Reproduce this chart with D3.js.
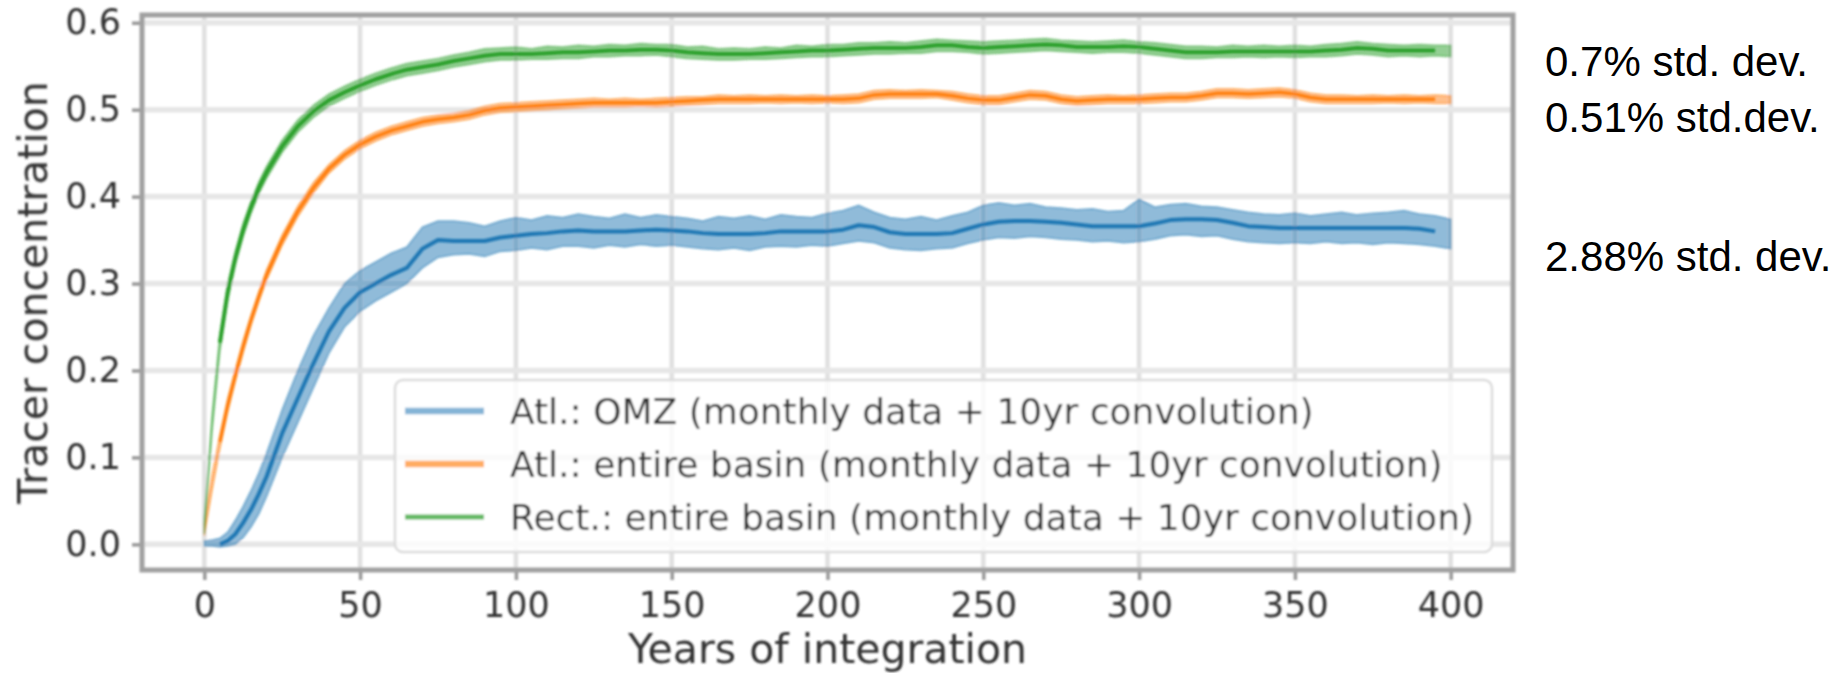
<!DOCTYPE html>
<html>
<head>
<meta charset="utf-8">
<script src="https://cdn.jsdelivr.net/npm/d3@7"></script>
<style>
  body { margin: 0; background: #fff; }
  svg { display: block; }
</style>
</head>
<body>
<div id="chart"></div>
<script>
// years of integration (monthly band sampled every 2.5 / 5 years)
const years = [
  0, 2.5, 5, 7.5, 10, 12.5, 15, 17.5,
  20, 25, 30, 35, 40, 45, 50, 55, 60, 65,
  70, 75, 80, 85, 90, 95, 100, 105, 110, 115,
  120, 125, 130, 135, 140, 145, 150, 155, 160, 165,
  170, 175, 180, 185, 190, 195, 200, 205, 210, 215,
  220, 225, 230, 235, 240, 245, 250, 255, 260, 265,
  270, 275, 280, 285, 290, 295, 300, 305, 310, 315,
  320, 325, 330, 335, 340, 345, 350, 355, 360, 365,
  370, 375, 380, 385, 390, 395, 400
]

// Atl.: OMZ
const omzLine = [
  null, null, 0.0, 0.004, 0.012, 0.025, 0.04, 0.058,
  0.078, 0.128, 0.168, 0.208, 0.245, 0.272, 0.29, 0.30, 0.31, 0.318,
  0.34, 0.35, 0.349, 0.349, 0.349, 0.353, 0.355, 0.357, 0.358, 0.36,
  0.361, 0.36, 0.36, 0.36, 0.361, 0.362, 0.361, 0.36, 0.358, 0.357,
  0.357, 0.357, 0.358, 0.36, 0.36, 0.36, 0.36, 0.362, 0.367, 0.365,
  0.359, 0.357, 0.357, 0.357, 0.358, 0.363, 0.368, 0.371, 0.372, 0.372,
  0.371, 0.37, 0.368, 0.366, 0.366, 0.366, 0.366, 0.369, 0.373, 0.374,
  0.374, 0.373, 0.37, 0.366, 0.365, 0.364, 0.364, 0.364, 0.364, 0.364,
  0.364, 0.364, 0.364, 0.364, 0.363, 0.36, null
]
const omzHigh = [
  0.004, 0.005, 0.007, 0.014, 0.028, 0.044, 0.062, 0.082,
  0.105, 0.155, 0.20, 0.24, 0.272, 0.30, 0.315, 0.325, 0.335, 0.342,
  0.365, 0.372, 0.372, 0.37, 0.366, 0.372, 0.376, 0.373, 0.378, 0.376,
  0.38, 0.377, 0.375, 0.38, 0.376, 0.379, 0.377, 0.375, 0.372, 0.377,
  0.375, 0.378, 0.374, 0.379, 0.377, 0.376, 0.381, 0.384, 0.39, 0.382,
  0.376, 0.374, 0.377, 0.373, 0.378, 0.382, 0.39, 0.393, 0.39, 0.392,
  0.388, 0.387, 0.385, 0.386, 0.383, 0.384, 0.397, 0.388, 0.391, 0.392,
  0.389, 0.388, 0.385, 0.382, 0.38, 0.379, 0.381, 0.378, 0.38, 0.382,
  0.379, 0.381, 0.382, 0.384, 0.38, 0.378, 0.374
]
const omzLow = [
  -0.002, -0.002, -0.003, -0.002, 0.0, 0.008, 0.02, 0.035,
  0.055, 0.10, 0.14, 0.18, 0.22, 0.25, 0.268, 0.28, 0.29, 0.30,
  0.318, 0.33, 0.333, 0.334, 0.331, 0.337, 0.338, 0.341, 0.339, 0.343,
  0.343, 0.341, 0.344, 0.342, 0.345, 0.343, 0.344, 0.342, 0.34, 0.339,
  0.341, 0.338, 0.342, 0.343, 0.342, 0.344, 0.343, 0.346, 0.349, 0.347,
  0.341, 0.339, 0.338, 0.34, 0.341, 0.346, 0.35, 0.353, 0.352, 0.354,
  0.353, 0.351, 0.35, 0.348, 0.349, 0.347, 0.348, 0.351, 0.355, 0.356,
  0.354, 0.355, 0.351, 0.348, 0.347, 0.346, 0.347, 0.346, 0.348, 0.346,
  0.347, 0.345, 0.347, 0.346, 0.345, 0.343, 0.34
]

// Atl.: entire basin
const atlLine = [
  null, null, 0.118, 0.16, 0.195, 0.228, 0.258, 0.285,
  0.31, 0.35, 0.383, 0.41, 0.432, 0.448, 0.46, 0.469, 0.476, 0.481,
  0.486, 0.489, 0.491, 0.494, 0.499, 0.502, 0.503, 0.504, 0.505, 0.506,
  0.507, 0.508, 0.508, 0.508, 0.508, 0.508, 0.509, 0.510, 0.511, 0.512,
  0.512, 0.512, 0.512, 0.512, 0.512, 0.512, 0.512, 0.512, 0.513, 0.517,
  0.518, 0.518, 0.518, 0.518, 0.516, 0.513, 0.511, 0.511, 0.514, 0.517,
  0.516, 0.512, 0.510, 0.511, 0.512, 0.512, 0.512, 0.513, 0.514, 0.514,
  0.516, 0.519, 0.519, 0.518, 0.519, 0.520, 0.518, 0.514, 0.512, 0.512,
  0.512, 0.512, 0.512, 0.512, 0.512, 0.512, null
]
const atlHigh = [
  0.024, 0.08, 0.126, 0.168, 0.202, 0.235, 0.264, 0.291,
  0.316, 0.356, 0.389, 0.416, 0.437, 0.453, 0.465, 0.474, 0.481, 0.486,
  0.491, 0.494, 0.496, 0.499, 0.504, 0.507, 0.508, 0.509, 0.510, 0.511,
  0.512, 0.513, 0.512, 0.513, 0.512, 0.513, 0.514, 0.515, 0.515, 0.517,
  0.516, 0.517, 0.516, 0.517, 0.516, 0.517, 0.516, 0.517, 0.518, 0.522,
  0.523, 0.522, 0.523, 0.522, 0.521, 0.518, 0.516, 0.516, 0.519, 0.522,
  0.521, 0.517, 0.515, 0.516, 0.517, 0.516, 0.517, 0.518, 0.519, 0.519,
  0.521, 0.524, 0.524, 0.523, 0.524, 0.525, 0.523, 0.519, 0.517, 0.517,
  0.516, 0.517, 0.516, 0.517, 0.516, 0.517, 0.516
]
const atlLow = [
  0.010, 0.062, 0.11, 0.152, 0.188, 0.221, 0.252, 0.279,
  0.304, 0.344, 0.377, 0.404, 0.427, 0.443, 0.455, 0.464, 0.471, 0.476,
  0.481, 0.484, 0.486, 0.489, 0.494, 0.497, 0.498, 0.499, 0.500, 0.501,
  0.502, 0.503, 0.503, 0.503, 0.504, 0.503, 0.504, 0.505, 0.506, 0.507,
  0.507, 0.507, 0.508, 0.507, 0.508, 0.507, 0.508, 0.507, 0.508, 0.512,
  0.513, 0.513, 0.513, 0.514, 0.511, 0.508, 0.506, 0.506, 0.509, 0.512,
  0.511, 0.507, 0.505, 0.506, 0.507, 0.507, 0.507, 0.508, 0.509, 0.509,
  0.511, 0.514, 0.514, 0.513, 0.514, 0.515, 0.513, 0.509, 0.507, 0.507,
  0.507, 0.507, 0.508, 0.507, 0.508, 0.507, 0.507
]

// Rect.: entire basin
const rectLine = [
  null, null, 0.232, 0.29, 0.33, 0.362, 0.388, 0.41,
  0.428, 0.458, 0.481, 0.498, 0.511, 0.52, 0.528, 0.535, 0.541, 0.546,
  0.549, 0.552, 0.556, 0.559, 0.562, 0.564, 0.564, 0.564, 0.565, 0.566,
  0.566, 0.567, 0.568, 0.568, 0.569, 0.569, 0.568, 0.566, 0.565, 0.564,
  0.564, 0.564, 0.565, 0.566, 0.567, 0.568, 0.568, 0.569, 0.570, 0.571,
  0.571, 0.571, 0.572, 0.574, 0.574, 0.572, 0.571, 0.572, 0.573, 0.574,
  0.575, 0.574, 0.572, 0.572, 0.572, 0.573, 0.572, 0.570, 0.568, 0.566,
  0.566, 0.566, 0.567, 0.567, 0.567, 0.567, 0.567, 0.567, 0.568, 0.569,
  0.571, 0.570, 0.568, 0.568, 0.568, 0.568, null
]
const rectHigh = [
  0.03, 0.15, 0.242, 0.30, 0.338, 0.37, 0.395, 0.417,
  0.435, 0.465, 0.488, 0.505, 0.518, 0.527, 0.535, 0.542, 0.548, 0.553,
  0.556, 0.559, 0.563, 0.566, 0.570, 0.571, 0.572, 0.570, 0.573, 0.572,
  0.574, 0.573, 0.575, 0.574, 0.576, 0.575, 0.575, 0.572, 0.573, 0.570,
  0.571, 0.570, 0.572, 0.571, 0.574, 0.573, 0.575, 0.575, 0.577, 0.577,
  0.578, 0.577, 0.579, 0.581, 0.580, 0.579, 0.578, 0.579, 0.580, 0.581,
  0.582, 0.580, 0.579, 0.578, 0.579, 0.580, 0.578, 0.577, 0.575, 0.573,
  0.573, 0.572, 0.574, 0.573, 0.574, 0.573, 0.574, 0.573, 0.575, 0.576,
  0.578, 0.576, 0.575, 0.574, 0.575, 0.574, 0.574
]
const rectLow = [
  0.012, 0.13, 0.222, 0.28, 0.322, 0.354, 0.381, 0.403,
  0.421, 0.451, 0.474, 0.491, 0.504, 0.513, 0.521, 0.528, 0.534, 0.539,
  0.542, 0.545, 0.549, 0.552, 0.555, 0.557, 0.557, 0.558, 0.558, 0.559,
  0.559, 0.561, 0.561, 0.562, 0.562, 0.563, 0.561, 0.559, 0.558, 0.557,
  0.557, 0.558, 0.558, 0.559, 0.560, 0.561, 0.561, 0.562, 0.563, 0.564,
  0.564, 0.565, 0.565, 0.567, 0.567, 0.566, 0.564, 0.565, 0.566, 0.567,
  0.568, 0.567, 0.566, 0.565, 0.566, 0.566, 0.565, 0.563, 0.561, 0.559,
  0.559, 0.560, 0.560, 0.561, 0.560, 0.561, 0.560, 0.561, 0.561, 0.562,
  0.564, 0.563, 0.561, 0.562, 0.561, 0.562, 0.561
]

const legendLabels = [
  'Atl.: OMZ (monthly data + 10yr convolution)',
  'Atl.: entire basin (monthly data + 10yr convolution)',
  'Rect.: entire basin (monthly data + 10yr convolution)'
]
const stdDevNotes = ['0.7% std. dev.', '0.51% std.dev.', '2.88% std. dev.']
const xTicks = [0, 50, 100, 150, 200, 250, 300, 350, 400]
const yTicks = [0.0, 0.1, 0.2, 0.3, 0.4, 0.5, 0.6]

const width = 1848
const height = 673
const plot = { left: 142, right: 1513, top: 15, bottom: 570 }

const series = [
  { label: legendLabels[0], color: '#1f77b4', line: omzLine, low: omzLow, high: omzHigh, lw: 4, hw: 6.5, ho: 0.55 },
  { label: legendLabels[1], color: '#ff7f0e', line: atlLine, low: atlLow, high: atlHigh, lw: 3.5, hw: 6.5, ho: 0.65 },
  { label: legendLabels[2], color: '#2ca02c', line: rectLine, low: rectLow, high: rectHigh, lw: 4, hw: 5, ho: 0.75 }
]

const x = d3.scaleLinear().domain([-20, 420]).range([plot.left, plot.right])
const y = d3.scaleLinear().domain([-0.0295, 0.6089]).range([plot.bottom, plot.top])

const svg = d3.select('#chart')
  .append('svg')
  .attr('width', width)
  .attr('height', height)

// the reference chart is a soft upscaled raster
svg.append('defs')
  .append('filter')
  .attr('id', 'soft')
  .append('feGaussianBlur')
  .attr('stdDeviation', 1.1)

const chart = svg.append('g').attr('filter', 'url(#soft)')

// grid
chart.append('g')
  .selectAll('line')
  .data(xTicks)
  .enter()
  .append('line')
  .attr('x1', d => x(d)).attr('x2', d => x(d))
  .attr('y1', plot.top).attr('y2', plot.bottom)
  .attr('stroke', '#e0e0e0')
  .attr('stroke-width', 4.5)

chart.append('g')
  .selectAll('line')
  .data(yTicks)
  .enter()
  .append('line')
  .attr('x1', plot.left).attr('x2', plot.right)
  .attr('y1', d => y(d)).attr('y2', d => y(d))
  .attr('stroke', '#e6e6e6')
  .attr('stroke-width', 5.5)

// monthly band + convolution line for each series
const band = d3.area()
  .x((d, i) => x(years[i]))
  .y0(d => y(d[0]))
  .y1(d => y(d[1]))

const line = d3.line()
  .defined(d => d[1] !== null)
  .x(d => x(d[0]))
  .y(d => y(d[1]))

series.forEach(s => {
  chart.append('path')
    .datum(s.low.map((v, i) => [v, s.high[i]]))
    .attr('d', band)
    .attr('fill', s.color)
    .attr('fill-opacity', 0.5)
    .attr('stroke', s.color)
    .attr('stroke-opacity', 0.5)
    .attr('stroke-width', 1.5)

  chart.append('path')
    .datum(years.map((yr, i) => [yr, s.line[i]]))
    .attr('d', line)
    .attr('fill', 'none')
    .attr('stroke', s.color)
    .attr('stroke-width', s.lw)
    .attr('stroke-linejoin', 'round')
})

// axes
const yAxis = chart.append('g')
  .attr('transform', `translate(${plot.left},0)`)
  .call(d3.axisLeft(y).tickValues(yTicks).tickFormat(d3.format('.1f')).tickSize(10).tickPadding(11))

const xAxis = chart.append('g')
  .attr('transform', `translate(0,${plot.bottom})`)
  .call(d3.axisBottom(x).tickValues(xTicks).tickFormat(d3.format('d')).tickSize(10).tickPadding(12))

;[xAxis, yAxis].forEach(ax => {
  ax.select('.domain').remove()
  ax.selectAll('.tick line').attr('stroke', '#999').attr('stroke-width', 3.5)
  ax.selectAll('.tick text')
    .attr('fill', '#333')
    .style('font-family', 'DejaVu Sans')
    .style('font-size', '35px')
})

// spines
chart.append('rect')
  .attr('x', plot.left)
  .attr('y', plot.top)
  .attr('width', plot.right - plot.left)
  .attr('height', plot.bottom - plot.top)
  .attr('fill', 'none')
  .attr('stroke', '#a0a0a0')
  .attr('stroke-width', 5)

// axis titles
chart.append('text')
  .attr('x', (plot.left + plot.right) / 2)
  .attr('y', 663)
  .attr('text-anchor', 'middle')
  .attr('fill', '#333')
  .style('font-family', 'DejaVu Sans')
  .style('font-size', '41px')
  .text('Years of integration')

chart.append('text')
  .attr('transform', `translate(47,${(plot.top + plot.bottom) / 2}) rotate(-90)`)
  .attr('text-anchor', 'middle')
  .attr('fill', '#333')
  .style('font-family', 'DejaVu Sans')
  .style('font-size', '41px')
  .text('Tracer concentration')

// legend
const legend = chart.append('g')
legend.append('rect')
  .attr('x', 395)
  .attr('y', 380)
  .attr('width', 1097)
  .attr('height', 172)
  .attr('rx', 8)
  .attr('fill', '#fff')
  .attr('fill-opacity', 0.8)
  .attr('stroke', '#dcdcdc')
  .attr('stroke-width', 2.5)

const rows = legend.selectAll('g.row')
  .data(series)
  .enter()
  .append('g')
  .attr('class', 'row')
  .attr('transform', (d, i) => `translate(0,${411 + i * 53})`)

rows.append('line')
  .attr('x1', 405).attr('x2', 484)
  .attr('stroke', d => d.color)
  .attr('stroke-opacity', d => d.ho)
  .attr('stroke-width', d => d.hw)

rows.append('text')
  .attr('x', 510)
  .attr('dy', '0.36em')
  .attr('fill', '#333')
  .style('font-family', 'DejaVu Sans')
  .style('font-size', '36px')
  .text(d => d.label)

// std. dev. notes to the right of the plot
svg.append('g')
  .selectAll('text')
  .data(stdDevNotes)
  .enter()
  .append('text')
  .attr('x', 1545)
  .attr('y', (d, i) => [76, 132, 271][i])
  .attr('fill', '#000')
  .style('font-family', 'Liberation Sans, Arial, sans-serif')
  .style('font-size', '42px')
  .text(d => d)
</script>
</body>
</html>
